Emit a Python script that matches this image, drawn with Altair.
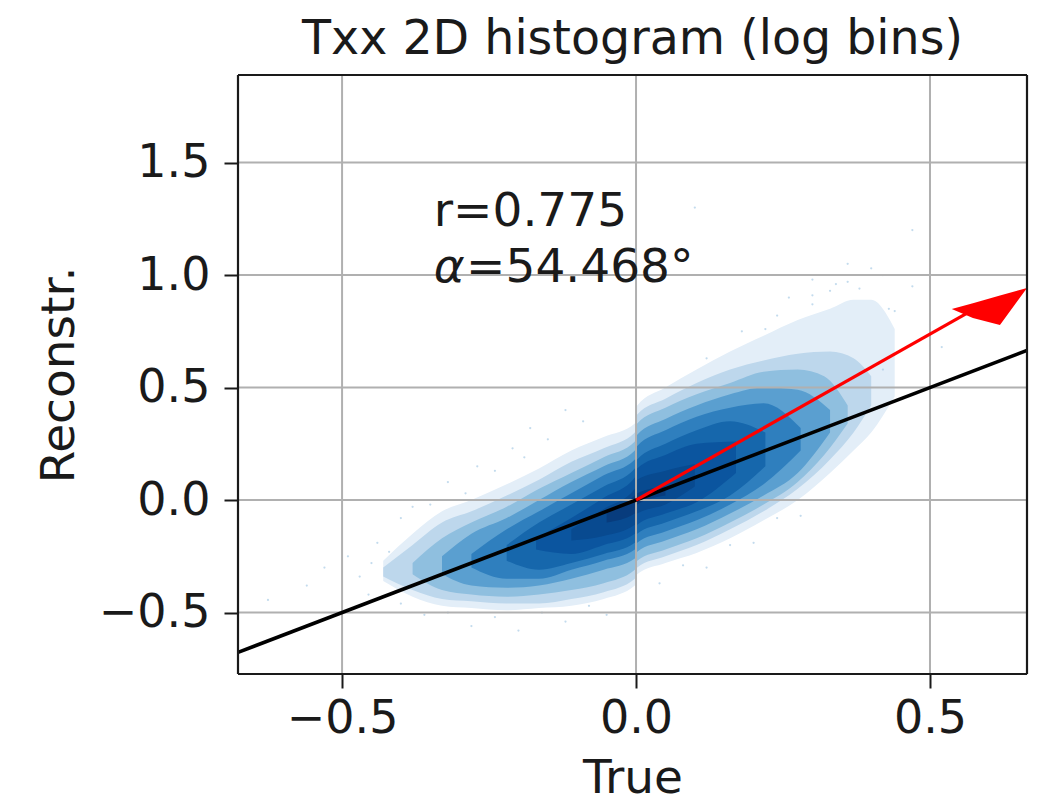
import altair as alt
import pandas as pd

FONT = "DejaVu Sans"
X_MIN, X_MAX = -0.677, 0.665
Y_MIN, Y_MAX = -0.773, 1.889
x_ticks = [-0.5, 0.0, 0.5]
y_ticks = [-0.5, 0.0, 0.5, 1.0, 1.5]
TXT = "#1a1a1a"
FS = 46

# Density envelopes (the cloud jumps slightly at x = 0)
l1_x = [-.43,-.38,-.33,-.28,-.22,-.165,-.11,-.055,-.002,.002,.05,.103,.16,.217,.275,.33,.37,.40,.44]
l1_t = [-.27,-.15,-.05,.0,.07,.14,.22,.28,.34,.42,.50,.58,.66,.73,.80,.85,.89,.89,.76]
l1_b = [-.36,-.43,-.47,-.48,-.49,-.48,-.47,-.44,-.38,-.33,-.28,-.235,-.17,-.09,.0,.12,.22,.30,.46]
l2_x = [-.43,-.38,-.33,-.28,-.22,-.165,-.11,-.055,-.002,.002,.05,.103,.16,.217,.275,.33,.37,.40]
l2_t = [-.30,-.20,-.1,-.05,.02,.09,.17,.23,.30,.38,.45,.52,.58,.62,.65,.66,.63,.55]
l2_b = [-.34,-.40,-.44,-.45,-.46,-.46,-.44,-.41,-.35,-.30,-.25,-.20,-.13,-.05,.05,.18,.30,.42]
l3_x = [-.38,-.33,-.28,-.22,-.165,-.11,-.055,-.002,.002,.05,.103,.16,.217,.275,.32,.36]
l3_t = [-.28,-.17,-.10,-.03,.05,.12,.19,.26,.34,.41,.47,.52,.57,.58,.55,.42]
l3_b = [-.33,-.40,-.42,-.43,-.42,-.40,-.37,-.31,-.27,-.22,-.17,-.10,-.02,.08,.2,.34]
l4_x = [-.33,-.28,-.22,-.165,-.11,-.055,-.002,.002,.05,.103,.16,.217,.275,.33]
l4_t = [-.25,-.15,-.08,.0,.08,.15,.22,.29,.36,.42,.47,.50,.49,.40]
l4_b = [-.33,-.38,-.39,-.38,-.35,-.31,-.26,-.23,-.18,-.13,-.06,.02,.12,.30]
l5_x = [-.28,-.22,-.165,-.11,-.055,-.002,.002,.05,.103,.16,.217,.28]
l5_t = [-.24,-.13,-.05,.03,.11,.18,.24,.31,.37,.41,.43,.32]
l5_b = [-.30,-.35,-.35,-.31,-.27,-.22,-.19,-.14,-.09,-.02,.07,.22]
l6_x = [-.22,-.165,-.11,-.055,-.002,.002,.05,.103,.16,.22]
l6_t = [-.2,-.10,-.02,.06,.14,.18,.25,.31,.35,.3]
l6_b = [-.27,-.31,-.28,-.24,-.19,-.15,-.1,-.05,.02,.15]
l7_x = [-.17,-.11,-.055,-.002,.002,.05,.103,.17]
l7_t = [-.17,-.08,.01,.10,.14,.2,.25,.26]
l7_b = [-.22,-.24,-.2,-.15,-.11,-.06,-.01,.12]
l8_x = [-.11,-.055,-.002,.002,.05,.10]
l8_t = [-.13,-.04,.05,.09,.13,.16]
l8_b = [-.18,-.16,-.11,-.06,-.02,.06]
l9_x = [-.05,-.002,.002,.05]
l9_t = [-.06,.02,.03,.06]
l9_b = [-.1,-.06,-.02,.02]
levels = [
    ("#e3eef8", l1_x, l1_t, l1_b),
    ("#bdd7ec", l2_x, l2_t, l2_b),
    ("#8fbfdf", l3_x, l3_t, l3_b),
    ("#5a9fd0", l4_x, l4_t, l4_b),
    ("#2f7fbe", l5_x, l5_t, l5_b),
    ("#1667ac", l6_x, l6_t, l6_b),
    ("#0b559f", l7_x, l7_t, l7_b),
    ("#084a90", l8_x, l8_t, l8_b),
    ("#083c7d", l9_x, l9_t, l9_b),
]

# Isolated faint cells outside the cloud
sparse_x = [-.626,-.56,-.53,-.49,-.47,-.455,-.45,-.44,-.42,-.40,-.38,-.35,-.32,-.29,-.27,-.24,-.21,-.19,-.18,-.15,-.12,-.09,
            -.40,-.36,-.32,-.28,-.24,-.20,-.16,-.12,-.08,-.05,.04,.08,.12,.16,.20,.24,.28,.30,.33,.36,.38,.42,.44,.47,.50,.52,.47,.05,.10,
            .30,.26,.22,.34,.40,.43,.12,.18,.24,.30,.36,.42]
sparse_y = [-.444,-.38,-.30,-.25,-.34,-.42,-.28,-.19,-.23,-.08,-.03,-.02,.08,.03,.15,.13,.23,.19,.32,.27,.40,.35,
            -.46,-.51,-.50,-.56,-.52,-.58,-.50,-.54,-.47,-.51,-.37,-.29,-.30,-.20,-.19,-.08,-.07,.98,.93,1.05,.94,1.0,.84,.95,.78,.68,1.2,1.1,1.3,
            .87,.90,.76,.96,1.03,.85,.63,.75,.82,.91,.97,.58]

ref_x = [X_MIN, X_MAX]
ref_y = [X_MIN, X_MAX]
shaft_x = [0.0, 0.573]
shaft_y = [0.0, 0.845]
head_x = [0.537, 0.573, 0.619, 0.665]
head_hi = [0.849, 0.875, 0.909, 0.942]
head_lo = [0.849, 0.809, 0.778, 0.942]

sx = alt.Scale(domain=[X_MIN, X_MAX], nice=False, zero=False)
sy = alt.Scale(domain=[Y_MIN, Y_MAX], nice=False, zero=False)
axis_common = dict(format=".1f", grid=False, domain=False, tickSize=14, tickWidth=2,
                   tickColor="#1a1a1a", labelFont=FONT, labelFontSize=FS, labelColor=TXT,
                   titleFont=FONT, titleFontSize=47, titleColor=TXT, titleFontWeight="normal")
X = alt.X("x:Q", scale=sx, title="True",
          axis=alt.Axis(values=x_ticks, labelPadding=8, titlePadding=14, **axis_common))
Y = alt.Y("y:Q", scale=sy, title="Reconstr.",
          axis=alt.Axis(values=y_ticks, labelPadding=14, titlePadding=15, **axis_common))

layers = []
for colour, xs, ts, bs in levels:
    df = pd.DataFrame({"x": xs, "y": ts, "y2": bs})
    layers.append(alt.Chart(df).mark_area(color=colour, interpolate="monotone", clip=True).encode(
        x=X, y=Y, y2="y2:Q"))

layers.append(alt.Chart(pd.DataFrame({"x": sparse_x, "y": sparse_y})).mark_point(
    filled=True, color="#a9cce6", size=5, opacity=0.7).encode(x=X, y=Y))

grid_color = "#b0b0b0"
layers.append(alt.Chart(pd.DataFrame({"x": x_ticks})).mark_rule(color=grid_color, strokeWidth=2).encode(x=X))
layers.append(alt.Chart(pd.DataFrame({"y": y_ticks})).mark_rule(color=grid_color, strokeWidth=2).encode(y=Y))

layers.append(alt.Chart(pd.DataFrame({"x": ref_x, "y": ref_y})).mark_line(color="black", strokeWidth=3.6, clip=True).encode(x=X, y=Y))
layers.append(alt.Chart(pd.DataFrame({"x": shaft_x, "y": shaft_y})).mark_line(color="#ff0000", strokeWidth=3.2).encode(x=X, y=Y))
layers.append(alt.Chart(pd.DataFrame({"x": head_x, "y": head_hi, "y2": head_lo})).mark_area(color="#ff0000").encode(x=X, y=Y, y2="y2:Q"))

# Frame of the plot
frame_color = "#1a1a1a"
layers.append(alt.Chart(pd.DataFrame({"x": [X_MIN, X_MAX]})).mark_rule(color=frame_color, strokeWidth=2.2).encode(x=X))
layers.append(alt.Chart(pd.DataFrame({"y": [Y_MIN, Y_MAX]})).mark_rule(color=frame_color, strokeWidth=2.2).encode(y=Y))

def label(x, y, text, style="normal"):
    return alt.Chart(pd.DataFrame({"x": [x], "y": [y], "t": [text]})).mark_text(
        font=FONT, fontSize=47, fontStyle=style, color=TXT, align="left", baseline="alphabetic"
    ).encode(x=X, y=Y, text="t:N")

layers.append(label(-0.344, 1.218, "r=0.775"))
layers.append(label(-0.344, 0.969, "α", "italic"))
layers.append(label(-0.289, 0.969, "=54.468°"))

chart = alt.layer(*layers).properties(
    width=789, height=599,
    title=alt.Title("Txx 2D histogram (log bins)", font=FONT, fontSize=47.5, fontWeight="normal",
                    color=TXT, anchor="middle", offset=10),
    padding={"left": 230, "top": 67, "right": 5, "bottom": 133},
    autosize=alt.AutoSizeParams(type="none"),
).configure_view(strokeWidth=0).configure(background="white")

chart.save("out.html", embed_options={"renderer": "svg", "actions": False})
